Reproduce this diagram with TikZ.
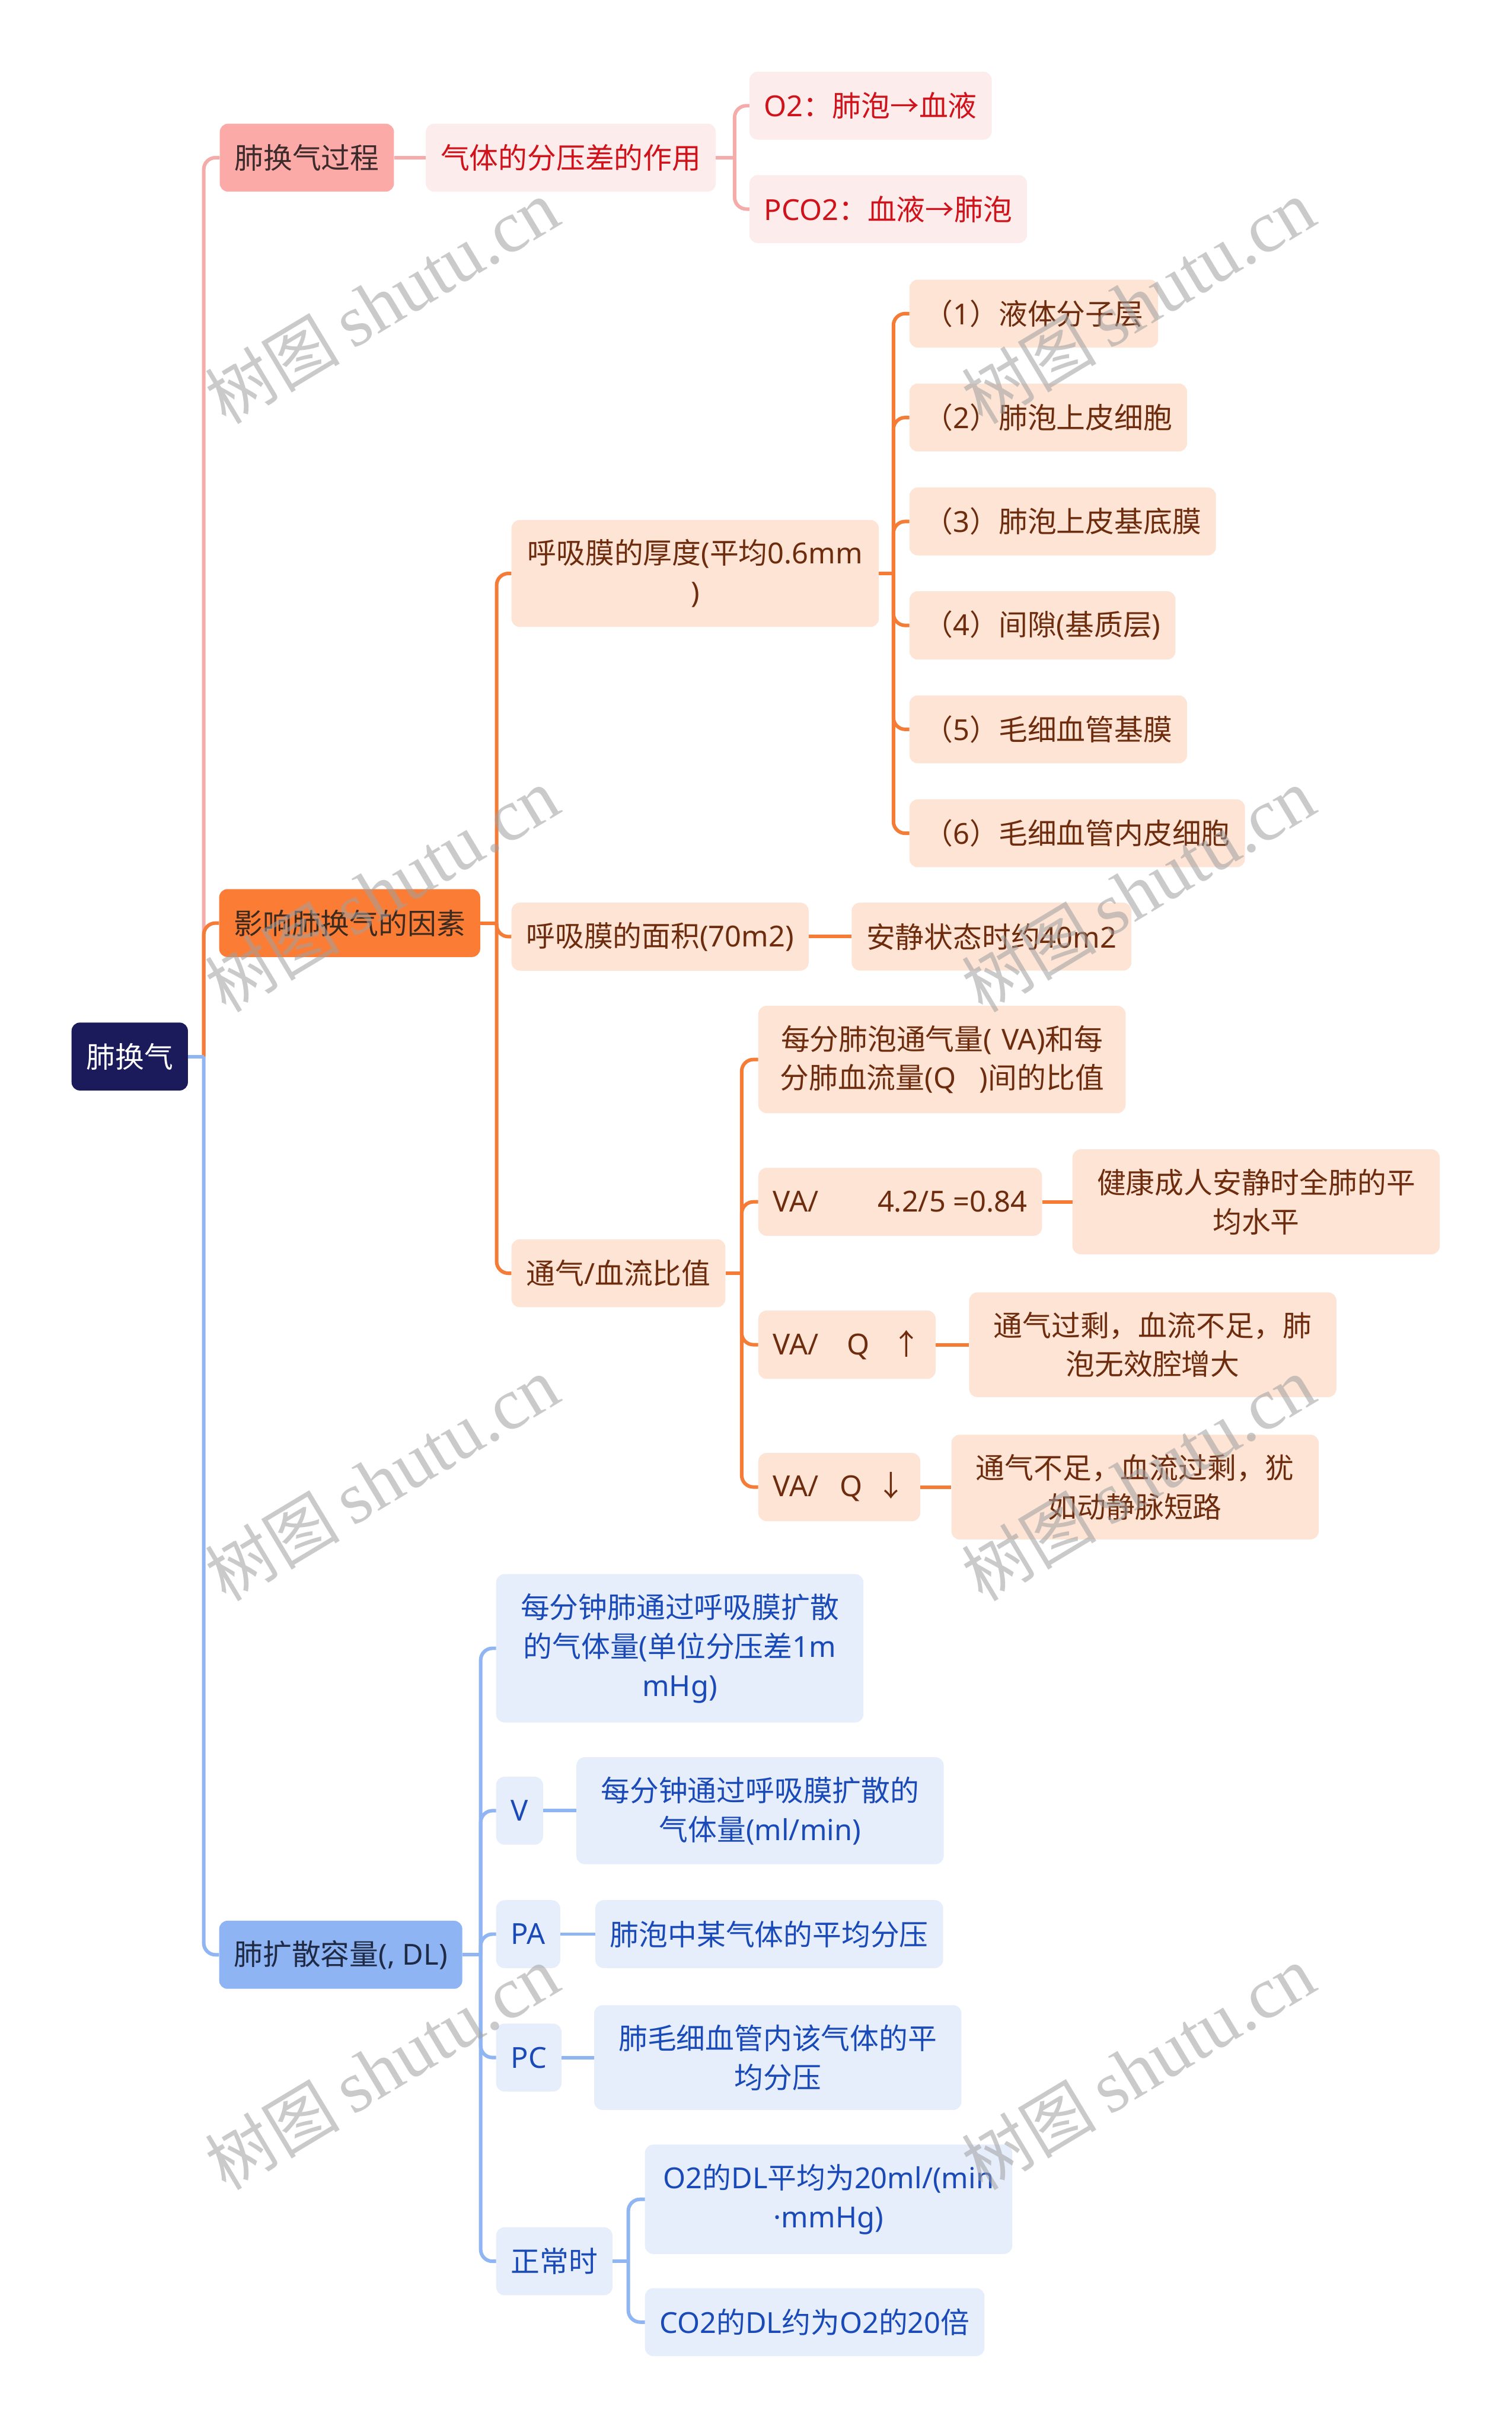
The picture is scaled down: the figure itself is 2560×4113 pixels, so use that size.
\documentclass[tikz,border=0pt]{standalone}
\usepackage{fontspec}
\setmainfont{Noto Sans CJK SC}
\newfontfamily\wmserif{Liberation Serif}
\newfontfamily\lt{Noto Sans}
\definecolor{rootc}{HTML}{1B1A5B}
\definecolor{pAfill}{HTML}{FBAAA8}
\definecolor{pAsub}{HTML}{FDECEC}
\definecolor{pAline}{HTML}{F6ABAB}
\definecolor{pAtxt}{HTML}{3D2B2B}
\definecolor{pAred}{HTML}{D0121B}
\definecolor{pBfill}{HTML}{FB7D35}
\definecolor{pBsub}{HTML}{FDE4D5}
\definecolor{pBline}{HTML}{F47C36}
\definecolor{pBtxt}{HTML}{3B2A20}
\definecolor{pBbrown}{HTML}{6E2C0E}
\definecolor{pCfill}{HTML}{8EB4F4}
\definecolor{pCsub}{HTML}{E6EEFC}
\definecolor{pCline}{HTML}{8FB5F2}
\definecolor{pCtxt}{HTML}{1F2A44}
\definecolor{pCblue}{HTML}{1A4AB8}
\definecolor{wmgray}{HTML}{A0A0A0}
\newcommand{\la}[1]{{\lt #1}}
\tikzset{
  box/.style={rounded corners=14pt, inner xsep=25pt, inner ysep=33pt,
    minimum height=115pt, align=center, anchor=west,
    font=\fontsize{49}{66}\selectfont},
  wrap/.style={text width=572pt},
  rootbox/.style={box, fill=rootc, text=white},
  aone/.style={box, fill=pAfill, text=pAtxt},
  asub/.style={box, fill=pAsub, text=pAred},
  bone/.style={box, fill=pBfill, text=pBtxt},
  bsub/.style={box, fill=pBsub, text=pBbrown},
  cone/.style={box, fill=pCfill, text=pCtxt},
  csub/.style={box, fill=pCsub, text=pCblue},
  lnA/.style={line width=6pt, draw=pAline, rounded corners=20pt},
  lnB/.style={line width=6pt, draw=pBline, rounded corners=20pt},
  lnC/.style={line width=6pt, draw=pCline, rounded corners=20pt},
  wm/.style={text=wmgray, opacity=0.55, rotate=31, inner sep=0pt},
}
\begin{document}
\begin{tikzpicture}[x=1pt,y=-1pt]
\fill[white] (0,0) rectangle (2560,4113);
\useasboundingbox (0,0) rectangle (2560,4113);

% nodes
\node[rootbox] (root) at (121,1789) {肺换气};

\node[aone] (b1) at (372,267) {肺换气过程};
\node[asub] (b1a) at (721,267) {气体的分压差的作用};
\node[asub] (b1a1) at (1269,179) {\la{O2}：肺泡→血液};
\node[asub] (b1a2) at (1269,354) {\la{PCO2}：血液→肺泡};

\node[bone] (b2) at (371,1563) {影响肺换气的因素};
\node[bsub, wrap] (b2a) at (866,971) {呼吸膜的厚度\la{(}平均\la{0.6mm}\\\la{)}};
\node[bsub] (b2a1) at (1540,531) {（\la{1}）液体分子层};
\node[bsub] (b2a2) at (1540,707) {（\la{2}）肺泡上皮细胞};
\node[bsub] (b2a3) at (1540,883) {（\la{3}）肺泡上皮基底膜};
\node[bsub] (b2a4) at (1540,1059) {（\la{4}）间隙\la{(}基质层\la{)}};
\node[bsub] (b2a5) at (1540,1235) {（\la{5}）毛细血管基膜};
\node[bsub] (b2a6) at (1540,1411) {（\la{6}）毛细血管内皮细胞};
\node[bsub] (b2b) at (866,1586) {呼吸膜的面积\la{(70m2)}};
\node[bsub] (b2b1) at (1442,1586) {安静状态时约\la{40m2}};
\node[bsub] (b2c) at (866,2156) {通气\la{/}血流比值};
\node[bsub, wrap] (b2c1) at (1284,1794) {每分肺泡通气量\la{( VA)}和每\\分肺血流量\la{(Q}\hspace{40pt}\la{)}间的比值};
\node[bsub] (b2c2) at (1284,2035) {\la{VA/}\hspace{100pt}\la{4.2/5 =0.84}};
\node[bsub, wrap] (b2c2a) at (1816,2035) {健康成人安静时全肺的平\\均水平};
\node[bsub] (b2c3) at (1284,2277) {\la{VA/}\hspace{48pt}\la{Q}\hspace{38pt}↑};
\node[bsub, wrap] (b2c3a) at (1641,2277) {通气过剩，血流不足，肺\\泡无效腔增大};
\node[bsub] (b2c4) at (1284,2518) {\la{VA/}\hspace{36pt}\la{Q}\hspace{24pt}↓};
\node[bsub, wrap] (b2c4a) at (1611,2518) {通气不足，血流过剩，犹\\如动静脉短路};

\node[cone] (b3) at (371,3310) {肺扩散容量\la{(, DL)}};
\node[csub, wrap] (b3a) at (840,2791) {每分钟肺通过呼吸膜扩散\\的气体量\la{(}单位分压差\la{1m}\\\la{mHg)}};
\node[csub] (b3b) at (840,3066) {\la{V}};
\node[csub, wrap] (b3b1) at (976,3066) {每分钟通过呼吸膜扩散的\\气体量\la{(ml/min)}};
\node[csub] (b3c) at (840,3275) {\la{PA}};
\node[csub] (b3c1) at (1008,3275) {肺泡中某气体的平均分压};
\node[csub] (b3d) at (840,3484) {\la{PC}};
\node[csub, wrap] (b3d1) at (1006,3484) {肺毛细血管内该气体的平\\均分压};
\node[csub] (b3e) at (840,3829) {正常时};
\node[csub, wrap] (b3e1) at (1092,3724) {\la{O2}的\la{DL}平均为\la{20ml/(min}\\\la{·mmHg)}};
\node[csub] (b3e2) at (1092,3932) {\la{CO2}的\la{DL}约为\la{O2}的\la{20}倍};

% junction coordinates
\coordinate (t0) at (345,1789);
\coordinate (j1) at (1244,267);
\coordinate (j2) at (841,1563);
\coordinate (j2a) at (1513,971);
\coordinate (j2c) at (1256,2156);
\coordinate (j3) at (814,3310);
\coordinate (j3e) at (1064,3829);

% branch A
\draw[lnA] (t0) |- (b1.west);
\draw[lnA] (b1.east) -- (b1a.west);
\draw[lnA] (b1a.east) -- (j1);
\draw[lnA] (j1) |- (b1a1.west);
\draw[lnA] (j1) |- (b1a2.west);

% branch B
\draw[lnB] (t0) |- (b2.west);
\draw[lnB] (b2.east) -- (j2);
\draw[lnB] (j2) |- (b2a.west);
\draw[lnB] (j2) |- (b2b.west);
\draw[lnB] (j2) |- (b2c.west);
\draw[lnB] (b2a.east) -- (j2a);
\foreach \k in {1,...,6} {\draw[lnB] (j2a) |- (b2a\k.west);}
\draw[lnB] (b2b.east) -- (b2b1.west);
\draw[lnB] (b2c.east) -- (j2c);
\foreach \k in {1,...,4} {\draw[lnB] (j2c) |- (b2c\k.west);}
\draw[lnB] (b2c2.east) -- (b2c2a.west);
\draw[lnB] (b2c3.east) -- (b2c3a.west);
\draw[lnB] (b2c4.east) -- (b2c4a.west);

% branch C
\draw[lnC] (t0) |- (b3.west);
\draw[lnC] (root.east) -- (t0);
\draw[lnC] (b3.east) -- (j3);
\foreach \k in {a,b,c,d,e} {\draw[lnC] (j3) |- (b3\k.west);}
\draw[lnC] (b3b.east) -- (b3b1.west);
\draw[lnC] (b3c.east) -- (b3c1.west);
\draw[lnC] (b3d.east) -- (b3d1.west);
\draw[lnC] (b3e.east) -- (j3e);
\draw[lnC] (j3e) |- (b3e1.west);
\draw[lnC] (j3e) |- (b3e2.west);

% watermarks
\newcommand{\wmtext}{{\fontsize{114}{114}\selectfont 树图}\hspace{22pt}{\wmserif\fontsize{124}{124}\selectfont shutu.cn}}
\node[wm] (wm1) at (647,512) {\wmtext};
\node[wm] (wm2) at (1928,512) {\wmtext};
\node[wm] (wm3) at (647,1508) {\wmtext};
\node[wm] (wm4) at (1928,1508) {\wmtext};
\node[wm] (wm5) at (647,2505) {\wmtext};
\node[wm] (wm6) at (1928,2505) {\wmtext};
\node[wm] (wm7) at (647,3502) {\wmtext};
\node[wm] (wm8) at (1928,3502) {\wmtext};
\end{tikzpicture}
\end{document}
